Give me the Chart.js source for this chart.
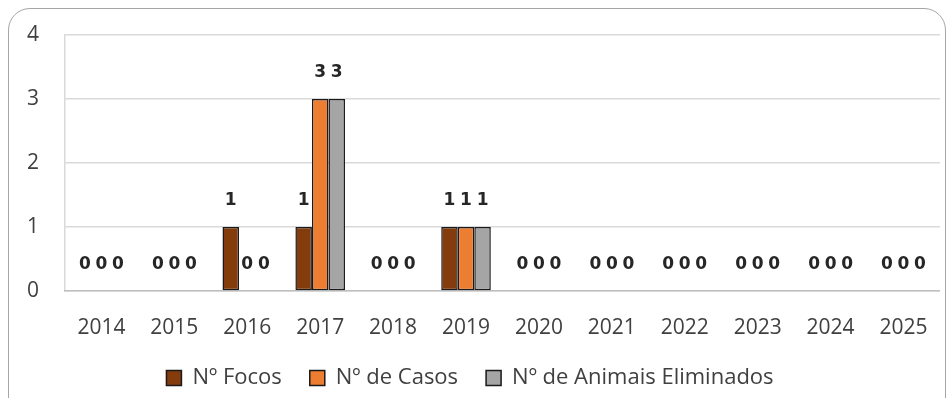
<!DOCTYPE html>
<html>
<head>
<meta charset="utf-8">
<script src="https://cdn.jsdelivr.net/npm/chart.js@4"></script>
<style>
  html, body { margin: 0; padding: 0; background: #fff; overflow: hidden; }
  #frame { position: absolute; left: 8px; top: 8px; width: 936px; height: 420px;
           border: 1px solid #a6a6a6; border-radius: 22px; }
  #wrap { position: absolute; left: 0; top: 0; width: 952px; height: 398px; }
</style>
</head>
<body>
<div id="frame"></div>
<div id="wrap"><canvas id="chart"></canvas></div>
<script>
const anos = ['2014','2015','2016','2017','2018','2019','2020','2021','2022','2023','2024','2025'];
const focos = [0, 0, 1, 1, 0, 1, 0, 0, 0, 0, 0, 0];
const casos = [0, 0, 0, 3, 0, 1, 0, 0, 0, 0, 0, 0];
const eliminados = [0, 0, 0, 3, 0, 1, 0, 0, 0, 0, 0, 0];
const yTicks = [0, 1, 2, 3, 4];

// value labels drawn above each bar
const valueLabels = {
  id: 'valueLabels',
  afterDatasetsDraw(chart) {
    const ctx = chart.ctx;
    ctx.save();
    ctx.font = 'bold 17px "DejaVu Sans"';
    ctx.fillStyle = '#262626';
    ctx.textAlign = 'center';
    ctx.textBaseline = 'middle';
    chart.data.datasets.forEach((ds, i) => {
      chart.getDatasetMeta(i).data.forEach((bar, j) => {
        ctx.fillText(String(ds.data[j]), bar.x, bar.y - 26);
      });
    });
    ctx.restore();
  }
};

const bw = c => (c.raw === 0 ? 0 : 1.5);
const txt = '#404040';

new Chart(document.getElementById('chart'), {
  type: 'bar',
  data: {
    labels: anos,
    datasets: [
      { label: 'Nº Focos', data: focos, backgroundColor: '#843c0c', borderColor: '#1a1a1a', borderWidth: bw },
      { label: 'Nº de Casos', data: casos, backgroundColor: '#ed7d31', borderColor: '#1a1a1a', borderWidth: bw },
      { label: 'Nº de Animais Eliminados', data: eliminados, backgroundColor: '#a5a5a5', borderColor: '#1a1a1a', borderWidth: bw }
    ]
  },
  options: {
    responsive: true,
    maintainAspectRatio: false,
    animation: false,
    layout: { padding: { top: 35, right: 12, bottom: -1, left: 0 } },
    datasets: { bar: { categoryPercentage: 0.68, barPercentage: 1, borderSkipped: false } },
    plugins: {
      legend: {
        position: 'bottom',
        labels: {
          font: { family: 'Open Sans', size: 22 },
          color: txt,
          boxWidth: 15,
          boxHeight: 15,
          padding: 28,
          generateLabels(chart) {
            return chart.data.datasets.map((ds, i) => ({
              text: ds.label, fillStyle: ds.backgroundColor, strokeStyle: '#1a1a1a',
              lineWidth: 1.5, datasetIndex: i, fontColor: txt
            }));
          }
        }
      },
      tooltip: { enabled: false }
    },
    scales: {
      y: {
        min: 0, max: 4,
        afterFit(s) { s.width = 65; s.paddingTop = 0; s.paddingBottom = 0; },
        afterBuildTicks(s) { s.ticks = yTicks.map(v => ({ value: v })); },
        ticks: { font: { family: 'Open Sans', size: 21 }, color: txt, padding: 26 },
        grid: { color: '#d9d9d9', lineWidth: 1.5, drawTicks: false },
        border: { display: true, color: '#d9d9d9', width: 1.5 }
      },
      x: {
        afterFit(s) { s.height = 48; },
        ticks: { font: { family: 'Open Sans', size: 21 }, color: txt, padding: 24 },
        grid: { display: false, drawTicks: false },
        border: { display: true, color: '#bfbfbf', width: 1.5 }
      }
    }
  },
  plugins: [valueLabels]
});
</script>
</body>
</html>
